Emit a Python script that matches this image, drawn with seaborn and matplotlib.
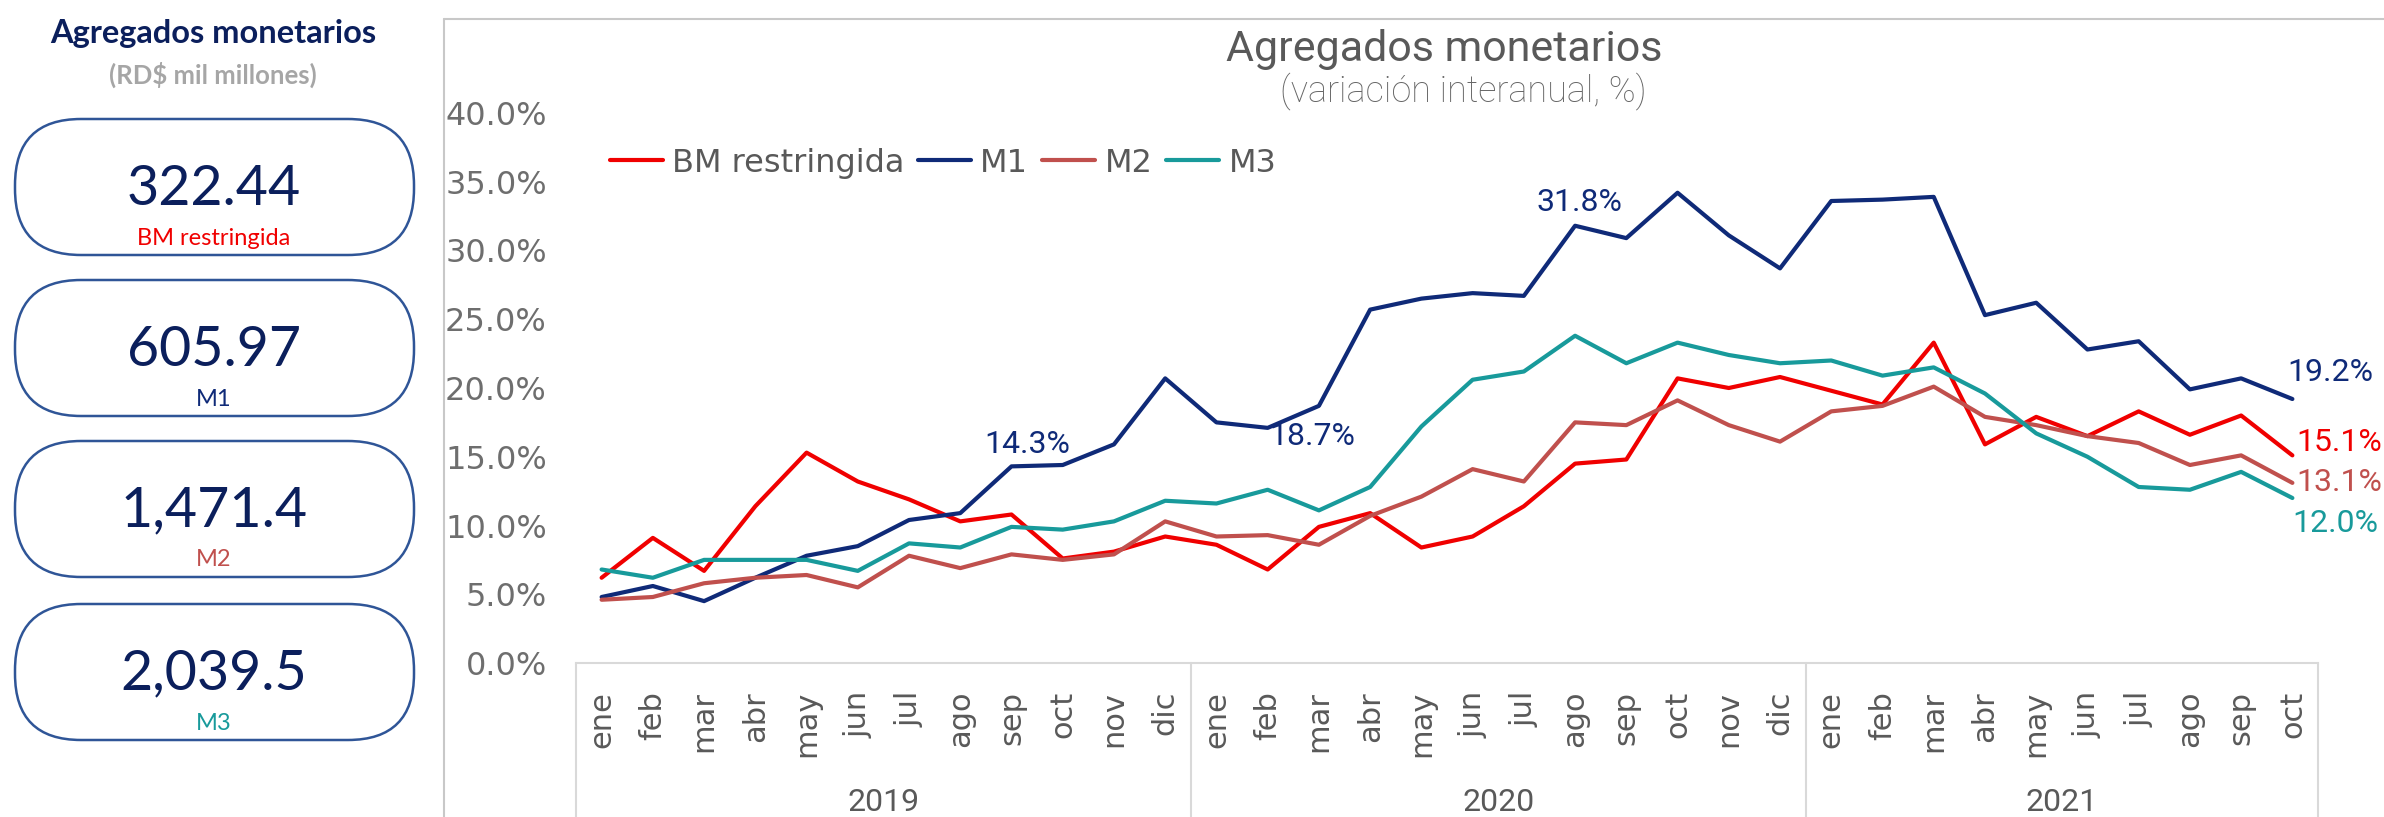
import numpy as np
import pandas as pd
import matplotlib.pyplot as plt
import seaborn as sns
from matplotlib.patches import FancyBboxPatch
from matplotlib.ticker import FuncFormatter

# datos (variacion interanual, %)
meses = ["ene", "feb", "mar", "abr", "may", "jun", "jul", "ago", "sep", "oct", "nov", "dic"]
anios = ["2019", "2020", "2021"]
meses_por_anio = [12, 12, 10]

bm = [6.2, 9.1, 6.7, 11.4, 15.3, 13.2, 11.9, 10.3, 10.8, 7.6, 8.1, 9.2,
      8.6, 6.8, 9.9, 10.9, 8.4, 9.2, 11.4, 14.5, 14.8, 20.7, 20.0, 20.8,
      19.8, 18.8, 23.3, 15.9, 17.9, 16.5, 18.3, 16.6, 18.0, 15.1]
m1 = [4.8, 5.6, 4.5, 6.2, 7.8, 8.5, 10.4, 10.9, 14.3, 14.4, 15.9, 20.7,
      17.5, 17.1, 18.7, 25.7, 26.5, 26.9, 26.7, 31.8, 30.9, 34.2, 31.1, 28.7,
      33.6, 33.7, 33.9, 25.3, 26.2, 22.8, 23.4, 19.9, 20.7, 19.2]
m2 = [4.6, 4.8, 5.8, 6.2, 6.4, 5.5, 7.8, 6.9, 7.9, 7.5, 7.9, 10.3,
      9.2, 9.3, 8.6, 10.7, 12.1, 14.1, 13.2, 17.5, 17.3, 19.1, 17.3, 16.1,
      18.3, 18.7, 20.1, 17.9, 17.3, 16.5, 16.0, 14.4, 15.1, 13.1]
m3 = [6.8, 6.2, 7.5, 7.5, 7.5, 6.7, 8.7, 8.4, 9.9, 9.7, 10.3, 11.8,
      11.6, 12.6, 11.1, 12.8, 17.2, 20.6, 21.2, 23.8, 21.8, 23.3, 22.4, 21.8,
      22.0, 20.9, 21.5, 19.6, 16.7, 15.0, 12.8, 12.6, 13.9, 12.0]

# panel izquierdo (RD$ mil millones)
kpi_valores = ["322.44", "605.97", "1,471.4", "2,039.5"]
kpi_nombres = ["BM restringida", "M1", "M2", "M3"]

colores = {"BM restringida": "#F00000", "M1": "#0F2A78", "M2": "#C0504D", "M3": "#189A9B"}
gris = "#595959"

sns.set_style("white")
plt.rcParams['font.family'] = ['Roboto', 'DejaVu Sans']

W, H = 2384, 817
fig = plt.figure(figsize=(W / 100, H / 100), dpi=100)

# capa en pixeles para el panel izquierdo y los bordes
panel = fig.add_axes([0, 0, 1, 1])
panel.set_xlim(0, W)
panel.set_ylim(H, 0)
panel.axis("off")
panel.plot([444, 444], [19, H], color="#C8C8C8", lw=1.5)
panel.plot([444, W], [19, 19], color="#C8C8C8", lw=1.5)

lato = ["Lato", "DejaVu Sans"]
panel.text(213, 33, "Agregados monetarios", ha="center", va="center", fontsize=23.5,
           fontweight="bold", color="#0B1F5C", family=lato)
panel.text(213, 75, "(RD$ mil millones)", ha="center", va="center", fontsize=18.5,
           fontweight="bold", color="#A6A6A6", family=lato)

tops = [119, 280, 441, 604]
for top, valor, nombre in zip(tops, kpi_valores, kpi_nombres):
    caja = FancyBboxPatch((15, top), 399, 136, boxstyle="round,pad=0,rounding_size=66",
                          fc="white", ec="#2F5597", lw=1.8)
    panel.add_patch(caja)
    panel.text(214, top + 70, valor, ha="center", va="center", fontsize=40,
               color="#0B1F5C", family=lato)
    panel.text(214, top + 119, nombre, ha="center", va="center", fontsize=17,
               color=colores[nombre], family=lato)

# grafico de lineas
periodos = [f"{m} {a}" for a, n in zip(anios, meses_por_anio) for m in meses[:n]]
etiquetas_mes = [m for n in meses_por_anio for m in meses[:n]]

df = pd.DataFrame({"periodo": periodos, "BM restringida": bm, "M1": m1, "M2": m2, "M3": m3})
largo = df.melt(id_vars="periodo", var_name="serie", value_name="variacion")

ax = fig.add_axes([576 / W, 1 - 663 / H, (2318 - 576) / W, (663 - 113) / H])
ax.patch.set_alpha(0)
sns.lineplot(data=largo, x="periodo", y="variacion", hue="serie", palette=colores,
             linewidth=3, sort=False, ax=ax)

ax.set_xlim(-0.5, len(periodos) - 0.5)
ax.set_ylim(0, 40)
ax.set_yticks(np.arange(0, 41, 5))
ax.yaxis.set_major_formatter(FuncFormatter(lambda v, p: f"{v:.1f}%"))
ax.set_xticks(range(len(periodos)))
ax.set_xticklabels(etiquetas_mes, rotation=90, fontsize=22, color=gris, family="DejaVu Sans")
ax.tick_params(axis="x", length=0, pad=20)
ax.tick_params(axis="y", length=0, pad=21, labelsize=23, labelcolor="#6E6E6E")
for t in ax.get_yticklabels():
    t.set_family("DejaVu Sans")
ax.set_xlabel("")
ax.set_ylabel("")
for lado in ["left", "top", "right"]:
    ax.spines[lado].set_visible(False)
ax.spines["bottom"].set_color("#D9D9D9")
ax.spines["bottom"].set_linewidth(1.5)

# caja de categorias (anios)
limites = np.cumsum([0] + meses_por_anio) - 0.5
for x in limites:
    ax.plot([x, x], [0, -0.3], transform=ax.get_xaxis_transform(), color="#D9D9D9",
            lw=1.5, clip_on=False)
for a, ini, fin in zip(anios, limites[:-1], limites[1:]):
    ax.text((ini + fin) / 2, -0.2545, a, transform=ax.get_xaxis_transform(),
            ha="center", va="center", fontsize=23, color=gris)

# leyenda
handles, labels = ax.get_legend_handles_labels()
ax.legend(handles, labels, loc="center left", bbox_to_anchor=(0.003, 0.909), ncol=4,
          frameon=False, prop={"family": "DejaVu Sans", "size": 23}, handlelength=1.66,
          handletextpad=0.28, columnspacing=0.44, labelcolor=gris)

# titulos
fig.text(1444 / W, 1 - 49 / H, "Agregados monetarios", ha="center", va="center",
         fontsize=31, color=gris)
fig.text(1463 / W, 1 - 91 / H, "(variación interanual, %)", ha="center", va="center",
         fontsize=26, color="#666666", fontweight="light")

# etiquetas de datos
n = len(periodos) - 1
etiquetas = [
    (8, m1, "M1", (11, 16), "center"),
    (14, m1, "M1", (-5, -22), "center"),
    (19, m1, "M1", (3, 17), "center"),
    (n, m1, "M1", (-4, 19), "left"),
    (n, bm, "BM restringida", (3, 9), "left"),
    (n, m2, "M2", (3, 0), "left"),
    (n, m3, "M3", (0, -18), "left"),
]
for i, serie, nombre, off, ha in etiquetas:
    ax.annotate(f"{serie[i]:.1f}%", xy=(i, serie[i]), xytext=off, textcoords="offset points",
                ha=ha, va="center", fontsize=23, color=colores[nombre], annotation_clip=False)

fig.savefig("out.png", dpi=100)
